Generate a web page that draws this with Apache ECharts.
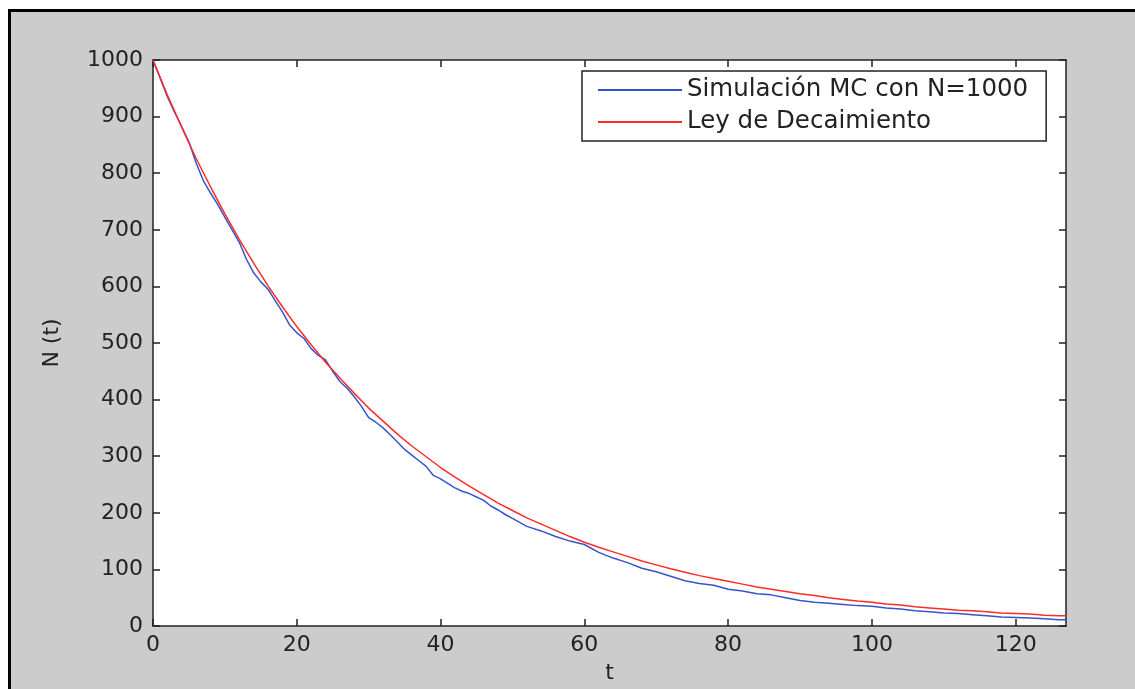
<!DOCTYPE html>
<html>
<head>
<meta charset="utf-8">
<script src="https://cdn.jsdelivr.net/npm/echarts@6/dist/echarts.min.js"></script>
<style>
html,body{margin:0;padding:0;background:#fff;}
#chart{width:1135px;height:689px;}
</style>
</head>
<body>
<div id="chart"></div>
<script>
// Monte Carlo simulation (blue)
var tBlue = [0,1,2,3,4,5,6,7,8,9,10,11,12,13,14,15,16,17,18,19,20,21,22,23,24,25,26,27,28,29,30,31,32,33,34,35,36,37,38,39,40,41,42,43,44,45,46,47,48,49,50,52,54,56,58,60,62,64,66,68,70,72,74,76,78,80,82,84,86,88,90,92,94,96,98,100,102,104,106,108,110,112,114,116,118,120,122,124,126,127];
var vBlue = [1000,968,935,908,882,855,818,787,765,745,722,700,678,648,624,608,595,575,555,532,518,508,490,478,470,450,432,420,405,388,368,360,350,338,325,312,302,292,282,266,260,252,244,238,234,228,222,212,205,197,190,176,168,158,150,144,130,120,112,102,96,88,80,75,72,65,62,57,55,50,45,42,40,38,36,35,32,30,27,25,23,22,20,18,16,15,14,13,11,11];
// Decay law (red)
var tRed = [0,2,4,6,8,10,12,14,16,18,20,22,24,26,28,30,32,34,36,38,40,42,44,46,48,50,52,54,56,58,60,62,64,66,68,70,72,74,76,78,80,82,84,86,88,90,92,94,96,98,100,102,104,106,108,110,112,114,116,118,120,122,124,126,127];
var vRed = [1000,938,881,826,776,728,683,641,601,564,529,497,466,438,411,385,362,339,318,299,280,263,247,232,217,204,191,180,169,158,148,139,131,123,115,108,101,95,89,84,79,74,69,65,61,57,54,50,47,44,42,39,37,34,32,30,28,27,25,23,22,21,19,18,18];
var xTicks = [0,20,40,60,80,100,120];
var seriesNames = ['Simulación MC con N=1000','Ley de Decaimiento'];

function pairs(t,v){var o=[];for(var i=0;i<t.length;i++)o.push([t[i],v[i]]);return o;}

var chart = echarts.init(document.getElementById('chart'));
var axisColor = '#222';
var fontFam = 'DejaVu Sans';
function xAx(pos, show){
  return {
    type:'value', position:pos, min:0, max:127, interval:20,
    axisLine:{show:true,onZero:false,lineStyle:{color:axisColor,width:1.5}},
    axisTick:{show:true,inside:true,length:7,lineStyle:{color:axisColor,width:1.5},
      customValues: xTicks},
    axisLabel:{show:show,color:axisColor,fontFamily:fontFam,fontSize:22,margin:8,
      customValues: xTicks, formatter:function(v){return String(v);}},
    splitLine:{show:false},
    name: show?'t':'', nameLocation:'middle', nameGap:36,
    nameTextStyle:{color:axisColor,fontFamily:fontFam,fontSize:22}
  };
}
function yAx(pos, show){
  return {
    type:'value', position:pos, min:0, max:1000, interval:100,
    axisLine:{show:true,onZero:false,lineStyle:{color:axisColor,width:1.5}},
    axisTick:{show:true,inside:true,length:7,lineStyle:{color:axisColor,width:1.5}},
    axisLabel:{show:show,color:axisColor,fontFamily:fontFam,fontSize:22,margin:10,
      formatter:function(v){return String(v);}},
    splitLine:{show:false},
    name: show?'N (t)':'', nameLocation:'middle', nameGap:90, nameRotate:90,
    nameTextStyle:{color:axisColor,fontFamily:fontFam,fontSize:22}
  };
}
chart.setOption({
  backgroundColor:'#cccccc',
  animation:false,
  graphic:[
    {type:'rect',shape:{x:0,y:0,width:1135,height:9},style:{fill:'#fff'},silent:true},
    {type:'rect',shape:{x:0,y:0,width:8,height:689},style:{fill:'#fff'},silent:true},
    {type:'rect',shape:{x:8,y:9,width:1127,height:3},style:{fill:'#000'},silent:true},
    {type:'rect',shape:{x:8,y:9,width:3,height:680},style:{fill:'#000'},silent:true}
  ],
  grid:{left:153,top:60,right:69,bottom:61,show:true,backgroundColor:'#fff',borderWidth:0},
  xAxis:[xAx('bottom',true), xAx('top',false)],
  yAxis:[yAx('left',true), yAx('right',false)],
  legend:{
    orient:'vertical', left:582, top:71,
    backgroundColor:'#fff', borderColor:'#222', borderWidth:1.5,
    padding:[6,18,6,16], itemGap:6, itemWidth:84, itemHeight:2, itemTextGap:10,
    icon:'rect',
    textStyle:{color:axisColor,fontFamily:fontFam,fontSize:24.5,lineHeight:26},
    data:seriesNames
  },
  series:[
    {name:seriesNames[0],type:'line',data:pairs(tBlue,vBlue),showSymbol:false,symbol:'none',
      lineStyle:{color:'#3355cc',width:1.5},itemStyle:{color:'#3355cc'}},
    {name:seriesNames[1],type:'line',data:pairs(tRed,vRed),showSymbol:false,symbol:'none',
      lineStyle:{color:'#ff2a2a',width:1.5},itemStyle:{color:'#ff2a2a'}}
  ]
});
</script>
</body>
</html>
